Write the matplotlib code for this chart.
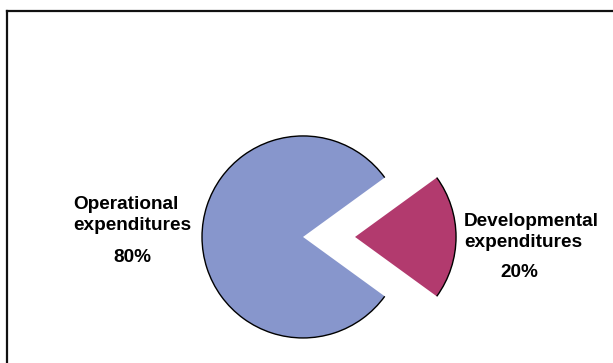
import matplotlib.pyplot as plt
from matplotlib.patches import Arc

# data
categories = ['Operational\nexpenditures', 'Developmental\nexpenditures']
shares = [80, 20]
colors = ['#8796CC', '#B23A6E']

plt.rcParams['font.family'] = ['Liberation Sans', 'DejaVu Sans']

fig = plt.figure(figsize=(6.13, 3.63), dpi=100)
ax = fig.add_axes([0, 0, 1, 1])

wedges, _ = ax.pie(shares, colors=colors, startangle=36, counterclock=True,
                   explode=(0, 0.515), radius=1.0,
                   wedgeprops=dict(linewidth=0))

# black outline on the curved edge only
for w in wedges:
    arc = Arc(w.center, 2 * w.r, 2 * w.r, theta1=w.theta1, theta2=w.theta2,
              color='black', lw=1.0)
    ax.add_patch(arc)

ax.set_xlim(-3.0, 3.069)
ax.set_ylim(-1.248, 2.346)
ax.set_aspect('equal')
ax.axis('off')

fs = 13.7
# labels
ax.text(-2.277, 0.22, categories[0], ha='left', va='center',
        fontsize=fs, fontweight='bold', linespacing=1.32)
ax.text(-1.69, -0.20, f'{shares[0]}%', ha='center', va='center',
        fontsize=fs, fontweight='bold')
ax.text(1.594, 0.05, categories[1], ha='left', va='center',
        fontsize=fs, fontweight='bold', linespacing=1.32)
ax.text(2.139, -0.356, f'{shares[1]}%', ha='center', va='center',
        fontsize=fs, fontweight='bold')

# frame (top and left edges visible)
fig.add_artist(plt.Line2D([6.5 / 613, 1.0], [1 - 10.5 / 363, 1 - 10.5 / 363],
                          color='#111111', lw=1.6, transform=fig.transFigure))
fig.add_artist(plt.Line2D([6.5 / 613, 6.5 / 613], [0, 1 - 10.5 / 363],
                          color='#111111', lw=1.6, transform=fig.transFigure))

fig.savefig('out.png', dpi=100, facecolor='white')
